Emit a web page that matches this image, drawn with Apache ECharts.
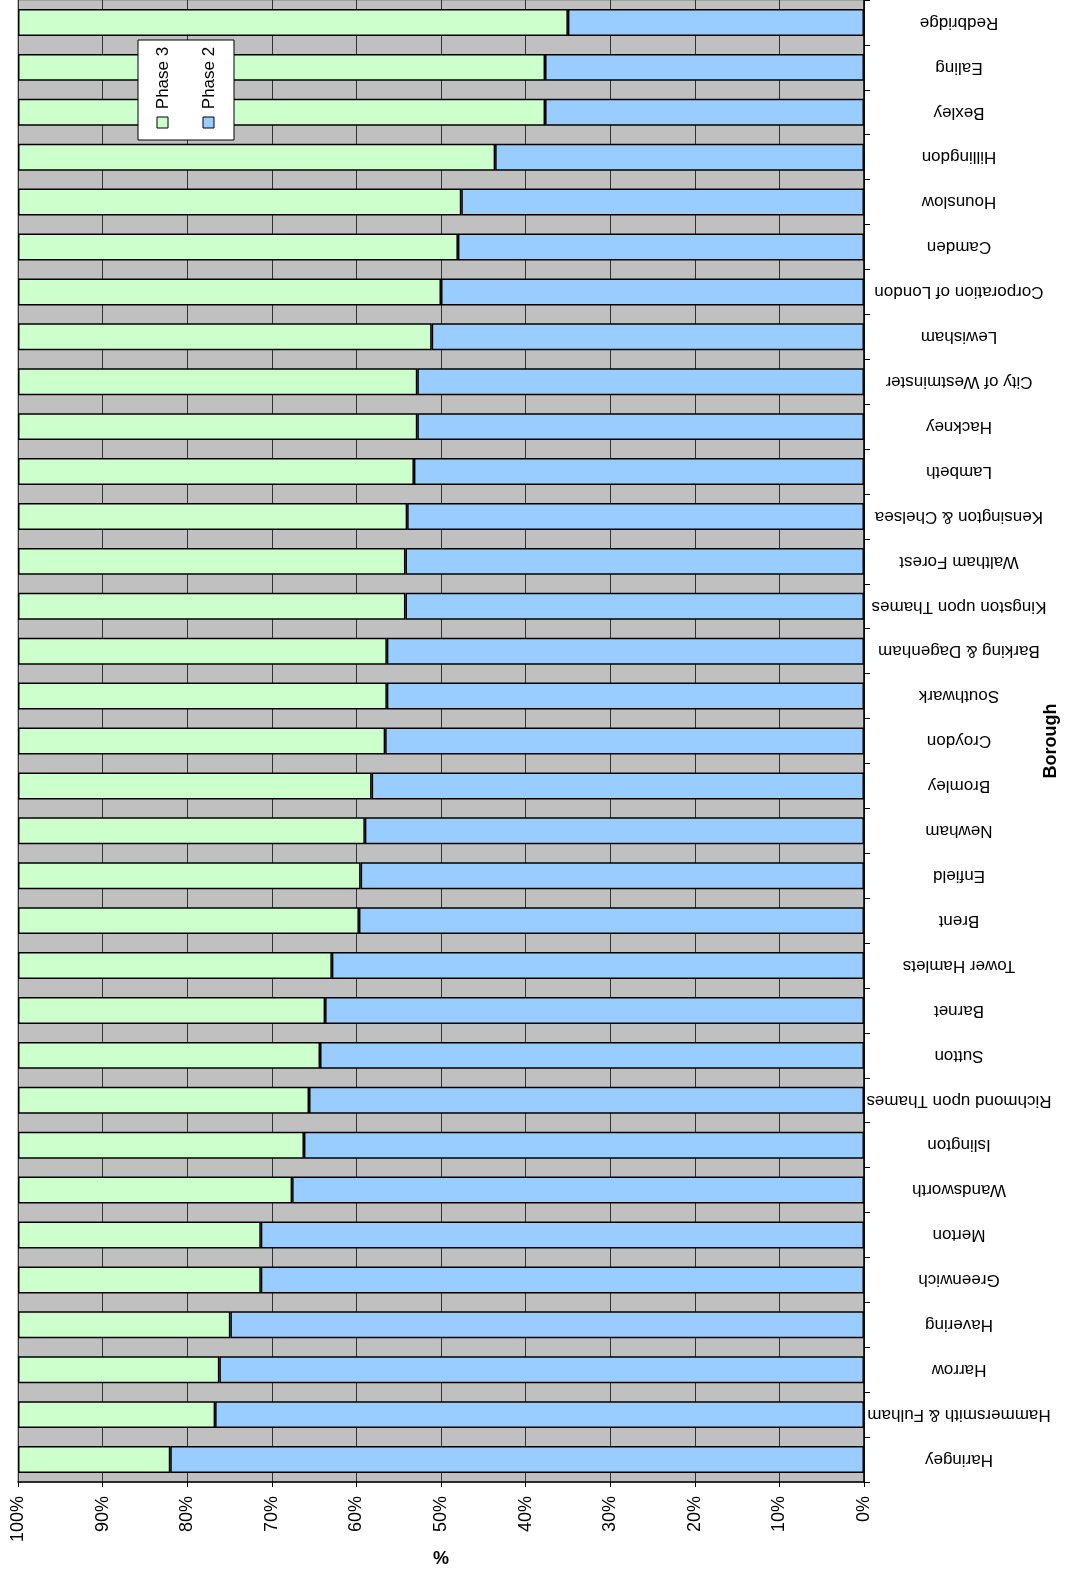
<!DOCTYPE html>
<html lang="en">
<head>
    <meta charset="UTF-8">
    <title>Phase 2 / Phase 3 by Borough</title>
    <script src="https://cdn.jsdelivr.net/npm/echarts@6/dist/echarts.min.js"></script>
    <style>
        html, body { margin: 0; padding: 0; background: #fff; }
    </style>
</head>
<body>
    <div id="chart" style="width: 1068px; height: 1573px;"></div>
    <script>
        // Boroughs, bottom to top
        var boroughs = [
            'Haringey', 'Hammersmith & Fulham', 'Harrow', 'Havering', 'Greenwich',
            'Merton', 'Wandsworth', 'Islington', 'Richmond upon Thames', 'Sutton',
            'Barnet', 'Tower Hamlets', 'Brent', 'Enfield', 'Newham', 'Bromley',
            'Croydon', 'Southwark', 'Barking & Dagenham', 'Kingston upon Thames',
            'Waltham Forest', 'Kensington & Chelsea', 'Lambeth', 'Hackney',
            'City of Westminster', 'Lewisham', 'Corporation of London', 'Camden',
            'Hounslow', 'Hillingdon', 'Bexley', 'Ealing', 'Redbridge'
        ];

        var phase2 = [
            82.0, 76.7, 76.2, 74.9, 71.3, 71.3, 67.6, 66.2, 65.6, 64.3,
            63.7, 62.9, 59.7, 59.5, 59.0, 58.2, 56.6, 56.4, 56.4, 54.2,
            54.2, 54.0, 53.2, 52.8, 52.8, 51.1, 50.0, 48.0, 47.6, 43.6,
            37.7, 37.7, 35.0
        ];

        var phase3 = [
            18.0, 23.3, 23.8, 25.1, 28.7, 28.7, 32.4, 33.8, 34.4, 35.7,
            36.3, 37.1, 40.3, 40.5, 41.0, 41.8, 43.4, 43.6, 43.6, 45.8,
            45.8, 46.0, 46.8, 47.2, 47.2, 48.9, 50.0, 52.0, 52.4, 56.4,
            62.3, 62.3, 65.0
        ];

        var green = '#CCFFCC';
        var blue = '#99CCFF';
        var font = 'Liberation Sans, Arial, sans-serif';

        var chart = echarts.init(document.getElementById('chart'));

        var option = {
            animation: false,
            textStyle: { fontFamily: font, color: '#000' },
            grid: {
                left: 18, right: 204, top: 0, bottom: 91,
                outerBoundsMode: 'none',
                containLabel: false,
                show: true,
                backgroundColor: '#C0C0C0',
                borderColor: '#808080',
                borderWidth: 1
            },
            xAxis: {
                type: 'value',
                min: 0, max: 100, interval: 10,
                inverse: true,
                position: 'bottom',
                name: '%',
                nameLocation: 'middle',
                nameGap: 68,
                nameMoveOverlap: false,
                nameTextStyle: { fontSize: 18, fontWeight: 'bold', color: '#000' },
                axisLine: { show: true, lineStyle: { color: '#000', width: 1.5 } },
                axisTick: { show: true, length: 5, lineStyle: { color: '#000' } },
                axisLabel: {
                    rotate: 90, margin: 14, fontSize: 18, color: '#000',
                    formatter: '{value}%'
                },
                splitLine: { show: true, lineStyle: { color: '#333', width: 1 } }
            },
            yAxis: {
                type: 'category',
                position: 'right',
                data: boroughs,
                name: 'Borough',
                nameLocation: 'middle',
                nameRotate: 90,
                nameGap: 178,
                nameMoveOverlap: false,
                nameTextStyle: { fontSize: 18, fontWeight: 'bold', color: '#000' },
                axisLine: { show: true, lineStyle: { color: '#000', width: 1.5 } },
                axisTick: { show: true, length: 6, lineStyle: { color: '#000' } },
                axisLabel: {
                    rotate: 180, align: 'center', margin: 95,
                    fontSize: 17, color: '#000', interval: 0
                },
                splitLine: { show: false }
            },
            series: [
                {
                    name: 'Phase 2',
                    type: 'bar',
                    stack: 'total',
                    data: phase2,
                    barCategoryGap: '40%',
                    itemStyle: { color: blue, borderColor: '#000', borderWidth: 1.5 }
                },
                {
                    name: 'Phase 3',
                    type: 'bar',
                    stack: 'total',
                    data: phase3,
                    barCategoryGap: '40%',
                    itemStyle: { color: green, borderColor: '#000', borderWidth: 1.5 }
                }
            ],
            // rotated legend box, drawn by hand
            graphic: [
                {
                    type: 'rect', z: 100,
                    shape: { x: 138, y: 40, width: 96, height: 100 },
                    style: { fill: '#fff', stroke: '#000', lineWidth: 1 }
                },
                {
                    type: 'rect', z: 101,
                    shape: { x: 157, y: 117, width: 11, height: 11 },
                    style: { fill: green, stroke: '#000', lineWidth: 1 }
                },
                {
                    type: 'rect', z: 101,
                    shape: { x: 203, y: 117, width: 11, height: 11 },
                    style: { fill: blue, stroke: '#000', lineWidth: 1 }
                },
                {
                    type: 'text', z: 101,
                    x: 163, y: 78, rotation: Math.PI / 2,
                    style: {
                        text: 'Phase 3', fontSize: 17, fontFamily: font, fill: '#000',
                        align: 'center', verticalAlign: 'middle'
                    }
                },
                {
                    type: 'text', z: 101,
                    x: 209, y: 78, rotation: Math.PI / 2,
                    style: {
                        text: 'Phase 2', fontSize: 17, fontFamily: font, fill: '#000',
                        align: 'center', verticalAlign: 'middle'
                    }
                }
            ]
        };

        chart.setOption(option);
    </script>
</body>
</html>
